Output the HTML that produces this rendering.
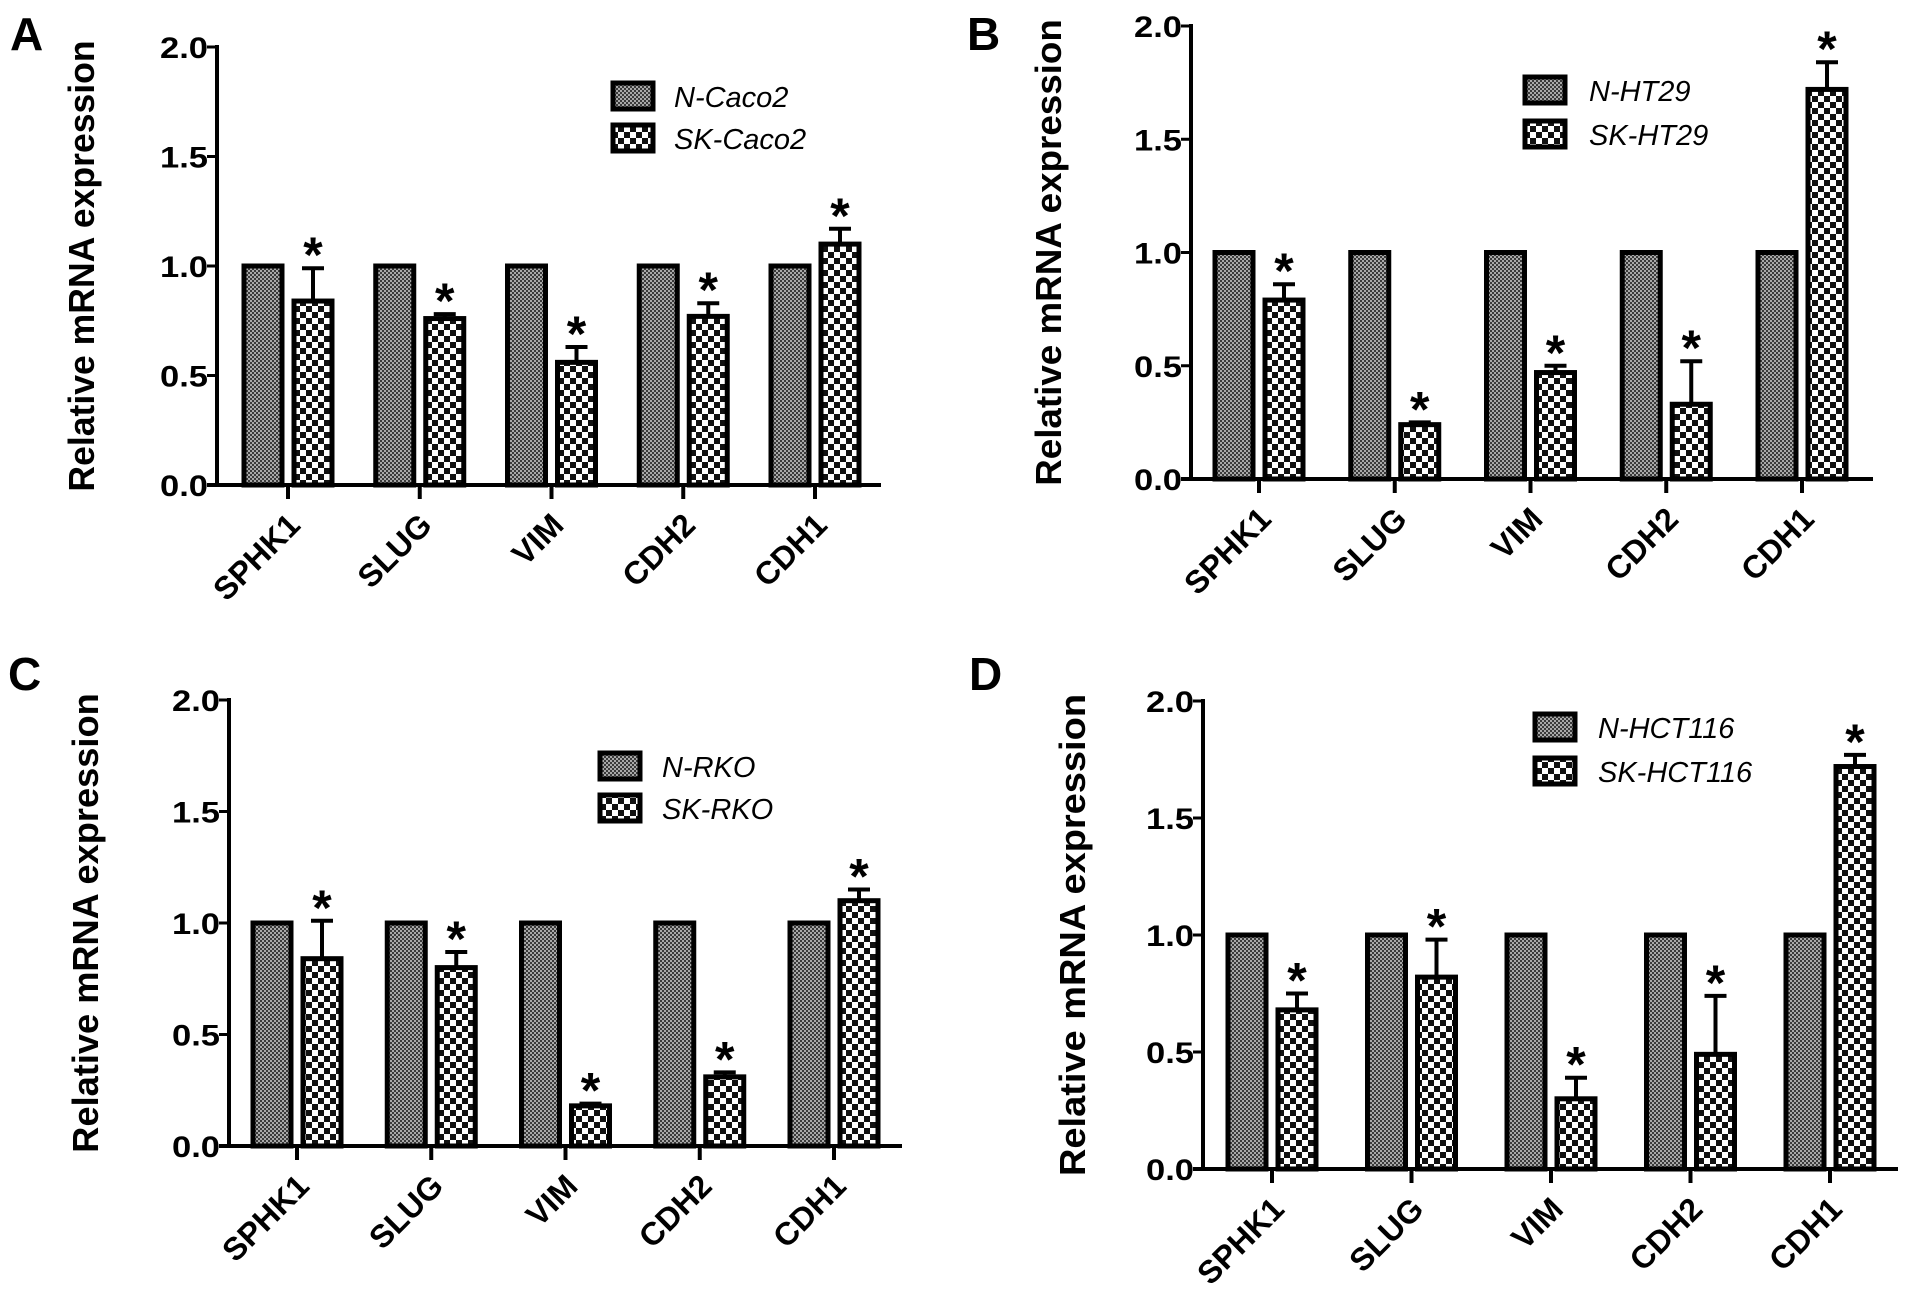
<!DOCTYPE html>
<html><head><meta charset="utf-8"><style>
html,body{margin:0;padding:0;background:#fff}
svg{display:block}
text{font-family:"Liberation Sans",Arial,sans-serif}
</style></head><body>
<svg id="fig" width="1913" height="1306" viewBox="0 0 1913 1306" xmlns="http://www.w3.org/2000/svg">
<defs>
<pattern id="pN" width="4" height="4" patternUnits="userSpaceOnUse">
<rect width="4" height="4" fill="#a8a8a8"/><rect width="2" height="2" fill="#3a3a3a"/><rect x="2" y="2" width="2" height="2" fill="#3a3a3a"/>
</pattern>
<pattern id="pSK" width="12" height="12" patternUnits="userSpaceOnUse">
<rect width="12" height="12" fill="#fff"/><rect width="6" height="6" fill="#111"/><rect x="6" y="6" width="6" height="6" fill="#111"/>
</pattern>
</defs>
</svg>
<script>
const categories = ["SPHK1","SLUG","VIM","CDH2","CDH1"];
const yTicks = [0, 0.5, 1.0, 1.5, 2.0];
const yTickLabels = ["0.0","0.5","1.0","1.5","2.0"];
const nValues = [1, 1, 1, 1, 1];
const skA = [0.84, 0.76, 0.56, 0.77, 1.10];
const errA = [0.15, 0.02, 0.07, 0.06, 0.07];
const skB = [0.79, 0.24, 0.47, 0.33, 1.72];
const errB = [0.07, 0.01, 0.03, 0.19, 0.12];
const skC = [0.84, 0.80, 0.18, 0.31, 1.10];
const errC = [0.17, 0.07, 0.01, 0.02, 0.05];
const skD = [0.68, 0.82, 0.30, 0.49, 1.72];
const errD = [0.07, 0.16, 0.09, 0.25, 0.05];
const legendA = ["N-Caco2","SK-Caco2"];
const legendB = ["N-HT29","SK-HT29"];
const legendC = ["N-RKO","SK-RKO"];
const legendD = ["N-HCT116","SK-HCT116"];

const NS = "http://www.w3.org/2000/svg";
const svg = document.getElementById("fig");
function mk(tag, attrs, parent, txt){
  const e = document.createElementNS(NS, tag);
  for (const k in attrs) e.setAttribute(k, attrs[k]);
  if (txt !== undefined) e.textContent = txt;
  (parent || svg).appendChild(e);
  return e;
}

function panel(cfg){
  const g = mk("g", {});
  
  
  const yScale = v => cfg.y0 - (v / 2) * (cfg.y0 - cfg.y2);
  const xScale = i => cfg.t0 + i * cfg.dt;

  const L = mk("text", {x: cfg.lx, y: cfg.ly, "font-size": 46, "font-weight": "bold"}, g, cfg.id);
  
  

  const tl = cfg.y0 - cfg.y2;
  const yt = mk("text", {x: 0, y: 0, "font-size": 36, "font-weight": "bold", "text-anchor": "middle",
    textLength: tl * 1.03, lengthAdjust: "spacingAndGlyphs",
    transform: `translate(${cfg.tx},${(cfg.y0 + cfg.y2) / 2}) rotate(-90)`}, g, "Relative mRNA expression");
  
  

  categories.forEach((c, i) => {
    const cx = xScale(i);
    const nTop = yScale(nValues[i]);
    const nb = mk("rect", {x: cx - 25 - 19, y: nTop, width: 38, height: cfg.y0 - nTop, fill: "url(#pN)", stroke: "#000", "stroke-width": 5}, g);
    
    
    const v = cfg.sk[i], e = cfg.err[i];
    const sTop = yScale(v);
    const eTop = yScale(v + e);
    const el = mk("line", {x1: cx + 25, x2: cx + 25, y1: sTop, y2: eTop, stroke: "#000", "stroke-width": 4}, g);
    
    
    const cap = mk("line", {x1: cx + 25 - 11, x2: cx + 25 + 11, y1: eTop, y2: eTop, stroke: "#000", "stroke-width": 4}, g);
    
    
    const sb = mk("rect", {x: cx + 25 - 19, y: sTop, width: 38, height: cfg.y0 - sTop, fill: "url(#pSK)", stroke: "#000", "stroke-width": 5}, g);
    
    
    const ast = mk("text", {x: cx + 25, y: eTop + 4, "font-size": 50, "font-weight": "bold", "text-anchor": "middle"}, g, "*");
    
    
    const xt = mk("line", {x1: cx, x2: cx, y1: cfg.y0, y2: cfg.y0 + 14, stroke: "#000", "stroke-width": 4}, g);
    
    
    const xl = mk("text", {x: 0, y: 0, "font-size": 32, "font-weight": "bold", "text-anchor": "end",
      transform: `translate(${cx + 14},${cfg.y0 + 42}) rotate(-45)`}, g, c);
    
    
  });

  const ya = mk("line", {x1: cfg.ax, x2: cfg.ax, y1: cfg.y2 - 2, y2: cfg.y0 + 2, stroke: "#000", "stroke-width": 4}, g);
  
  
  const xa = mk("line", {x1: cfg.ax - 10, x2: cfg.xr, y1: cfg.y0, y2: cfg.y0, stroke: "#000", "stroke-width": 4}, g);
  
  
  yTicks.forEach((t, k) => {
    const y = yScale(t);
    const tk = mk("line", {x1: cfg.ax - 10, x2: cfg.ax, y1: y, y2: y, stroke: "#000", "stroke-width": 3}, g);
    
    
    const lb = mk("text", {x: cfg.ax - 9, y: y + 11, "font-size": 30, "font-weight": "bold", "text-anchor": "end",
      textLength: 48, lengthAdjust: "spacingAndGlyphs"}, g, yTickLabels[k]);
    
    
  });

  const lg = mk("g", {}, g);
  
  
  [["url(#pN)", cfg.legY[0]], ["url(#pSK)", cfg.legY[1]]].forEach((p, k) => {
    const b = mk("rect", {x: cfg.legX, y: p[1], width: 40, height: 26, fill: p[0], stroke: "#000", "stroke-width": 5}, lg);
    
    
    const t = mk("text", {x: cfg.legTX, y: p[1] + 24, "font-size": 29, "font-style": "italic"}, lg, cfg.legend[k]);
    
    
  });
}

panel({id:"A", lx:10, ly:50, tx:94, ax:217, y0:485, y2:47, xr:881, t0:288, dt:131.75, sk:skA, err:errA, legX:613, legY:[83,125], legTX:674, legend:legendA});
panel({id:"B", lx:967, ly:50, tx:1061, ax:1191, y0:479, y2:26, xr:1873, t0:1259, dt:135.75, sk:skB, err:errB, legX:1525, legY:[77,121], legTX:1589, legend:legendB});
panel({id:"C", lx:8, ly:690, tx:98, ax:229, y0:1146, y2:700, xr:902, t0:297, dt:134.25, sk:skC, err:errC, legX:600, legY:[753,795], legTX:662, legend:legendC});
panel({id:"D", lx:969, ly:690, tx:1085, ax:1203, y0:1169, y2:701, xr:1898, t0:1272, dt:139.5, sk:skD, err:errD, legX:1535, legY:[714,758], legTX:1598, legend:legendD});
</script>
</body></html>
